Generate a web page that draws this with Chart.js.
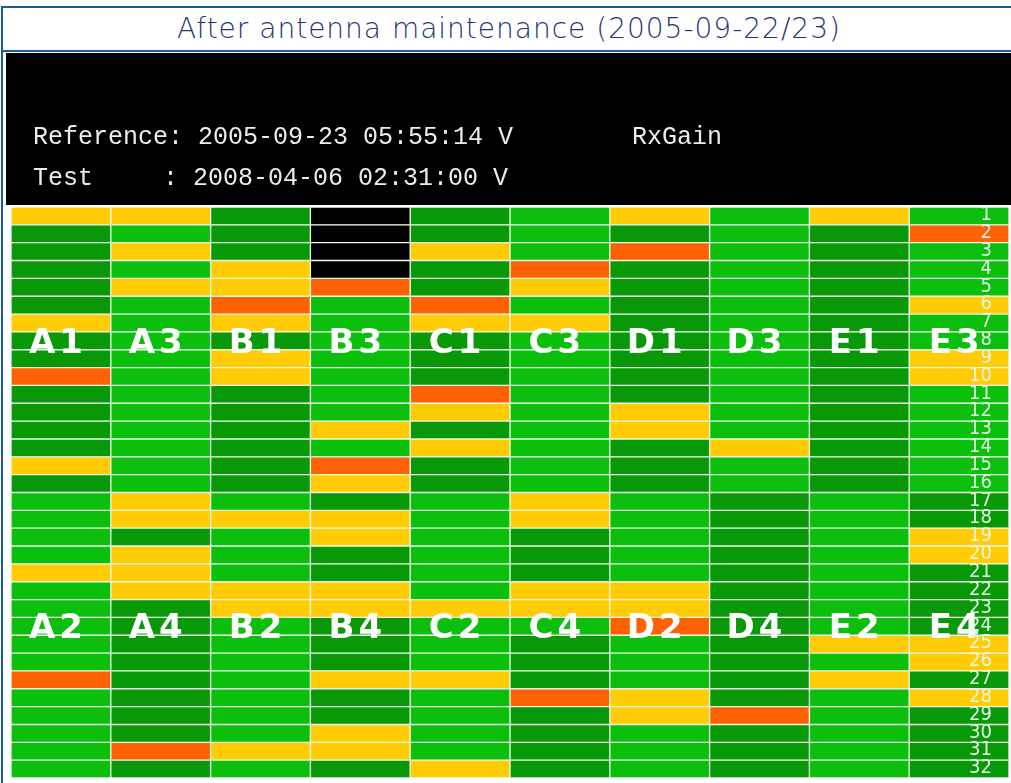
<!DOCTYPE html>
<html lang="en">
<head>
    <meta charset="UTF-8">
    <title>RxGain after antenna maintenance</title>
    <script src="https://cdn.jsdelivr.net/npm/chart.js@4"></script>
    <style>
        body {
            margin: 0;
            background-color: #fff;
            overflow: hidden;
        }
        #frame {
            position: absolute;
            left: 1px;
            top: 6px;
            width: 1012px;
            height: 800px;
            border: 2px solid #1b5c9c;
            border-right: none;
        }
        #title {
            height: 42px;
            line-height: 42px;
            border-bottom: 2px solid #1b5c9c;
            text-align: center;
            font-family: "DejaVu Sans", sans-serif;
            font-weight: 300;
            font-size: 28px;
            letter-spacing: 1px;
            color: #283377;
        }
        #rxChart {
            position: absolute;
            left: 6px;
            top: 53px;
        }
    </style>
</head>
<body>
    <div id="frame">
        <div id="title">After antenna maintenance (2005-09-22/23)</div>
    </div>
    <canvas id="rxChart" width="1005" height="730"></canvas>

    <script>
        // header texts
        const referenceTime = '2005-09-23 05:55:14 V';
        const testTime = '2008-04-06 02:31:00 V';
        const metricName = 'RxGain';

        // antenna labels: upper half (rows 1-16) and lower half (rows 17-32) of each column
        const upperLabels = ['A1', 'A3', 'B1', 'B3', 'C1', 'C3', 'D1', 'D3', 'E1', 'E3'];
        const lowerLabels = ['A2', 'A4', 'B2', 'B4', 'C2', 'C4', 'D2', 'D4', 'E2', 'E4'];
        const rowLabels = ['1', '2', '3', '4', '5', '6', '7', '8', '9', '10', '11', '12', '13', '14', '15', '16',
                           '17', '18', '19', '20', '21', '22', '23', '24', '25', '26', '27', '28', '29', '30', '31', '32'];

        // status per row: D = dark green, L = light green, Y = yellow, O = orange, N = no data
        const statusA = ['Y','D','D','D','D','D','Y','D','D','O','D','D','D','D','Y','D',
                         'L','L','L','L','Y','L','L','L','L','L','O','L','L','L','L','L'];
        const statusA34 = ['Y','L','Y','L','Y','L','L','L','L','L','L','L','L','L','L','L',
                           'Y','Y','D','Y','Y','Y','D','D','D','D','D','D','D','D','O','D'];
        const statusB = ['D','D','D','Y','Y','O','Y','D','Y','Y','D','D','D','D','D','D',
                         'L','Y','L','L','L','Y','Y','L','L','L','L','L','L','L','Y','L'];
        const statusB34 = ['N','N','N','N','O','L','L','L','L','L','L','L','Y','L','O','Y',
                           'D','Y','Y','D','D','Y','Y','D','D','D','Y','D','D','Y','Y','D'];
        const statusC = ['D','D','Y','D','D','O','Y','D','D','D','O','Y','D','Y','D','D',
                         'L','L','L','L','L','L','Y','L','L','L','Y','L','L','L','L','Y'];
        const statusC34 = ['L','L','L','O','Y','L','Y','L','L','L','L','L','L','L','L','L',
                           'Y','Y','D','D','D','Y','Y','L','D','D','D','O','D','D','D','D'];
        const statusD = ['Y','D','O','D','D','D','D','D','D','D','D','Y','Y','D','D','D',
                         'L','L','L','L','L','Y','Y','O','L','L','L','Y','Y','L','L','L'];
        const statusD34 = ['L','L','L','L','L','L','L','L','L','L','L','L','L','Y','L','L',
                           'D','D','D','D','D','D','D','D','D','D','D','D','O','D','D','D'];
        const statusE = ['Y','D','D','D','D','D','D','D','D','D','D','D','D','D','D','D',
                         'L','L','L','L','L','L','L','L','Y','L','Y','L','L','L','L','L'];
        const statusE34 = ['L','O','L','L','L','Y','L','L','Y','Y','L','L','L','L','L','L',
                           'D','D','Y','Y','D','D','D','D','Y','Y','D','Y','D','D','D','D'];

        const columnStatus = [statusA, statusA34, statusB, statusB34, statusC,
                              statusC34, statusD, statusD34, statusE, statusE34];

        const statusColors = {
            D: '#089808',
            L: '#0dbf0d',
            Y: '#ffcc05',
            O: '#ff6205',
            N: '#000000'
        };

        // black header with the reference / test times
        const headerPlugin = {
            id: 'header',
            beforeDraw(chart) {
                const ctx = chart.ctx;
                ctx.save();
                ctx.fillStyle = '#000';
                ctx.fillRect(0, 0, chart.width, chart.chartArea.top - 2);
                ctx.fillStyle = '#ececec';
                ctx.font = '25px "Liberation Mono", monospace';
                ctx.textBaseline = 'alphabetic';
                ctx.fillText('Reference: ' + referenceTime, 27, 91);
                ctx.fillText(metricName, 626, 91);
                ctx.fillText('Test', 27, 132);
                ctx.fillText(': ' + testTime, 157, 132);
                ctx.restore();
            }
        };

        // antenna names over rows 8 and 24, row numbers down the last column
        const gridLabels = {
            id: 'gridLabels',
            afterDatasetsDraw(chart) {
                const ctx = chart.ctx;
                const xs = chart.scales.x;
                const ys = chart.scales.y;
                ctx.save();
                ctx.fillStyle = '#ffffff';
                ctx.font = 'bold 34px "DejaVu Sans", sans-serif';
                ctx.letterSpacing = '4px';
                ctx.textAlign = 'center';
                ctx.textBaseline = 'middle';
                upperLabels.forEach((label, i) => {
                    ctx.fillText(label, xs.getPixelForValue(i) - 3, ys.getPixelForValue(7.5) + 3);
                    ctx.fillText(lowerLabels[i], xs.getPixelForValue(i) - 3, ys.getPixelForValue(23.5) + 3);
                });

                ctx.letterSpacing = '0px';
                ctx.fillStyle = '#e6f6e6';
                ctx.font = '20px "Liberation Sans Narrow", "DejaVu Sans Condensed", sans-serif';
                ctx.textAlign = 'right';
                rowLabels.forEach((label, r) => {
                    ctx.fillText(label, chart.chartArea.right - 17, ys.getPixelForValue(r + 0.5) - 1);
                });
                ctx.restore();
            }
        };

        const datasets = columnStatus.map((codes, c) => ({
            label: upperLabels[c] + '/' + lowerLabels[c],
            data: codes.map((s, r) => ({ x: upperLabels[c], y: [r, r + 1] })),
            backgroundColor: codes.map(s => statusColors[s])
        }));

        const ctx = document.getElementById('rxChart').getContext('2d');
        new Chart(ctx, {
            type: 'bar',
            data: {
                labels: upperLabels,
                datasets: datasets
            },
            options: {
                responsive: false,
                animation: false,
                layout: {
                    padding: { top: 154, bottom: 5, left: 5, right: 2 }
                },
                plugins: {
                    legend: { display: false },
                    tooltip: { enabled: false }
                },
                datasets: {
                    bar: {
                        grouped: false,
                        barPercentage: 1,
                        categoryPercentage: 1,
                        borderWidth: 1,
                        borderColor: '#eafbea',
                        borderSkipped: false
                    }
                },
                scales: {
                    x: { type: 'category', display: false },
                    y: { type: 'linear', min: 0, max: 32, reverse: true, display: false }
                }
            },
            plugins: [headerPlugin, gridLabels]
        });
    </script>
</body>
</html>
